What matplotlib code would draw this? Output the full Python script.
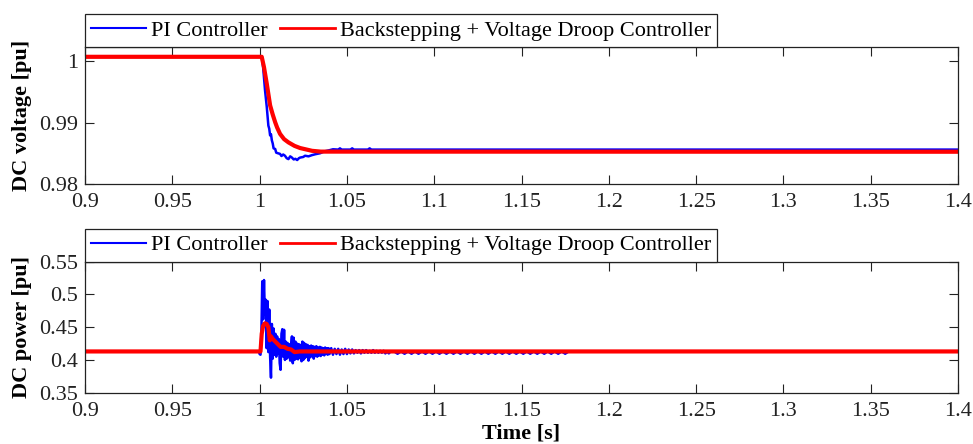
import numpy as np
import matplotlib
matplotlib.use("Agg")
import matplotlib.pyplot as plt

plt.rcParams['font.family'] = ['Liberation Serif', 'DejaVu Serif']

# ---- DC voltage [pu] ----
t_bs_v = [0.9, 1.0012, 1.0025, 1.0041, 1.0060, 1.0075, 1.0089, 1.0100, 1.0117,
          1.0140, 1.0165, 1.0200, 1.0232, 1.0270, 1.0300, 1.0350, 1.4]
v_bs = [1.0007, 1.0007, 0.9990, 0.9963, 0.9928, 0.9913, 0.99005, 0.9892, 0.98815,
        0.9873, 0.98677, 0.9862, 0.98585, 0.9856, 0.9854, 0.98527, 0.98525]

t_pi_v = [0.9, 1.0012, 1.0020, 1.0031, 1.0041, 1.0050, 1.0055, 1.0060, 1.0065,
          1.0070, 1.0075, 1.0080, 1.0089, 1.0095, 1.0105, 1.0117, 1.0125, 1.0135,
          1.0145, 1.0155, 1.0165, 1.0175, 1.0185, 1.0195, 1.0205, 1.0215, 1.0225,
          1.0232, 1.0250, 1.0260, 1.0280, 1.0300, 1.0320, 1.0346, 1.0370, 1.0400,
          1.0420, 1.0450, 1.0460, 1.0470, 1.0520, 1.0530, 1.0540, 1.0620, 1.0630,
          1.0640, 1.4]
v_pi = [1.0007, 1.0007, 0.9990, 0.9952, 0.9925, 0.9895, 0.9890, 0.9879, 0.9881,
        0.9871, 0.9866, 0.9858, 0.9857, 0.9851, 0.9850, 0.9849, 0.98455, 0.9848,
        0.9846, 0.9842, 0.98405, 0.9845, 0.9843, 0.9840, 0.9841, 0.9839, 0.9842,
        0.9843, 0.9844, 0.9846, 0.9845, 0.9847, 0.98485, 0.9850, 0.9853, 0.9855,
        0.98565, 0.9856, 0.9858, 0.9856, 0.9856, 0.9858, 0.9856, 0.9856, 0.9858,
        0.9856, 0.9856]

# ---- DC power [pu] ----
t_bs_p = [0.9, 1.0005, 1.0012, 1.0020, 1.0030, 1.0040, 1.0050, 1.0058, 1.0065,
          1.0075, 1.0090, 1.0105, 1.0120, 1.0140, 1.0160, 1.0180, 1.0200, 1.0230, 1.4]
p_bs = [0.413, 0.413, 0.440, 0.452, 0.456, 0.455, 0.450, 0.430, 0.436,
        0.432, 0.428, 0.424, 0.420, 0.420, 0.417, 0.416, 0.412, 0.413, 0.413]

# PI controller, sampled every 0.5 ms during the first part of the transient
p_pi_fast = [0.413, 0.409, 0.408, 0.440, 0.520, 0.462, 0.522, 0.470, 0.492, 0.418,
             0.490, 0.412, 0.477, 0.405, 0.373, 0.455, 0.402, 0.448, 0.408, 0.440,
             0.405, 0.436, 0.410, 0.432, 0.395, 0.385, 0.440, 0.447, 0.405, 0.446,
             0.400, 0.428, 0.402, 0.426, 0.404, 0.424, 0.399, 0.422, 0.436, 0.395,
             0.434, 0.400, 0.428, 0.402, 0.425, 0.401, 0.424, 0.404, 0.423, 0.398,
             0.428, 0.400, 0.426, 0.403, 0.424, 0.405, 0.423, 0.399, 0.421, 0.404,
             0.422, 0.406, 0.421, 0.402, 0.420, 0.406, 0.421, 0.405, 0.419, 0.407,
             0.420, 0.406, 0.419, 0.408, 0.418, 0.407, 0.419, 0.409, 0.418, 0.408,
             0.418, 0.409]
# then every 1 ms
p_pi_mid = [0.418, 0.408, 0.417, 0.409, 0.417, 0.408, 0.416, 0.409, 0.417, 0.409,
            0.416, 0.410, 0.416, 0.410, 0.415, 0.411, 0.415, 0.410, 0.415, 0.411,
            0.415, 0.411, 0.414, 0.411, 0.415, 0.411, 0.414, 0.411, 0.414, 0.411,
            0.414, 0.410, 0.413, 0.410, 0.413]
# then every 2 ms, small residual dips
p_pi_slow = [0.413, 0.4095, 0.413, 0.4095, 0.413, 0.4095, 0.413, 0.4095,
             0.413, 0.4095, 0.413, 0.4095, 0.413, 0.4095, 0.413, 0.4095,
             0.413, 0.4095, 0.413, 0.4095, 0.413, 0.4095, 0.413, 0.4095,
             0.413, 0.4095, 0.413, 0.4095, 0.413, 0.4095, 0.413, 0.4095,
             0.413, 0.4095, 0.413, 0.4095, 0.413, 0.4095, 0.413, 0.4095,
             0.413, 0.4095, 0.413, 0.4095, 0.413, 0.4095, 0.413, 0.4095,
             0.413, 0.4095, 0.413]

t_fast = 0.9995 + 0.0005 * np.arange(len(p_pi_fast))
t_mid = 1.041 + 0.001 * np.arange(len(p_pi_mid))
t_slow = 1.077 + 0.002 * np.arange(len(p_pi_slow))
t_pi_p = np.concatenate([[0.9], t_fast, t_mid, t_slow, [1.4]])
p_pi = np.concatenate([[0.413], p_pi_fast, p_pi_mid, p_pi_slow, [0.413]])

x_ticks = [0.9, 0.95, 1.0, 1.05, 1.1, 1.15, 1.2, 1.25, 1.3, 1.35, 1.4]
x_labels = ['0.9', '0.95', '1', '1.05', '1.1', '1.15', '1.2', '1.25', '1.3', '1.35', '1.4']
v_ticks = [0.98, 0.99, 1.0]
v_labels = ['0.98', '0.99', '1']
p_ticks = [0.35, 0.4, 0.45, 0.5, 0.55]
p_labels = ['0.35', '0.4', '0.45', '0.5', '0.55']

blue = '#0000ff'
red = '#ff0000'
fs = 16

fig = plt.figure(figsize=(9.73, 4.44), dpi=100)
ax1 = fig.add_axes([0.0874, 0.5856, 0.8972, 0.3086])
ax2 = fig.add_axes([0.0874, 0.1155, 0.8972, 0.2951])

ax1.plot(t_pi_v, v_pi, color=blue, lw=1.8, label='PI Controller')
ax1.plot(t_bs_v, v_bs, color=red, lw=3.0, label='Backstepping + Voltage Droop Controller')
ax2.plot(t_pi_p, p_pi, color=blue, lw=1.8, label='PI Controller')
ax2.plot(t_bs_p, p_bs, color=red, lw=3.0, label='Backstepping + Voltage Droop Controller')

ax1.set_ylim(0.98, 1.0023)
ax1.set_yticks(v_ticks, v_labels)
ax2.set_ylim(0.35, 0.55)
ax2.set_yticks(p_ticks, p_labels)

for ax in (ax1, ax2):
    ax.set_xlim(0.9, 1.4)
    ax.set_xticks(x_ticks, x_labels)
    ax.tick_params(direction='in', top=True, right=True, length=6.5, width=0.8,
                   labelsize=fs, colors='#222222')
    ax.tick_params(axis='x', pad=6.5)
    ax.tick_params(axis='y', pad=5)
    for s in ax.spines.values():
        s.set_color('#222222')
        s.set_linewidth(0.9)
    leg = ax.legend(loc='lower left', bbox_to_anchor=(0, 1), ncol=2, borderaxespad=0,
                    fontsize=fs, handlelength=2.45, handletextpad=0.25, columnspacing=0.55,
                    borderpad=0.28, fancybox=False, framealpha=1)
    leg.get_frame().set_edgecolor('#222222')
    leg.get_frame().set_linewidth(0.9)
    leg.get_lines()[0].set_linewidth(1.5)
    leg.get_lines()[1].set_linewidth(2.0)

ax1.set_ylabel('DC voltage [pu]', fontsize=fs, fontweight='bold')
ax2.set_ylabel('DC power [pu]', fontsize=fs, fontweight='bold')
ax1.yaxis.set_label_coords(-0.061, 0.5)
ax2.yaxis.set_label_coords(-0.061, 0.5)
ax2.set_xlabel('Time [s]', fontsize=fs, fontweight='bold')
ax2.xaxis.set_label_coords(0.5, -0.235)

fig.savefig('out.png', dpi=100)
